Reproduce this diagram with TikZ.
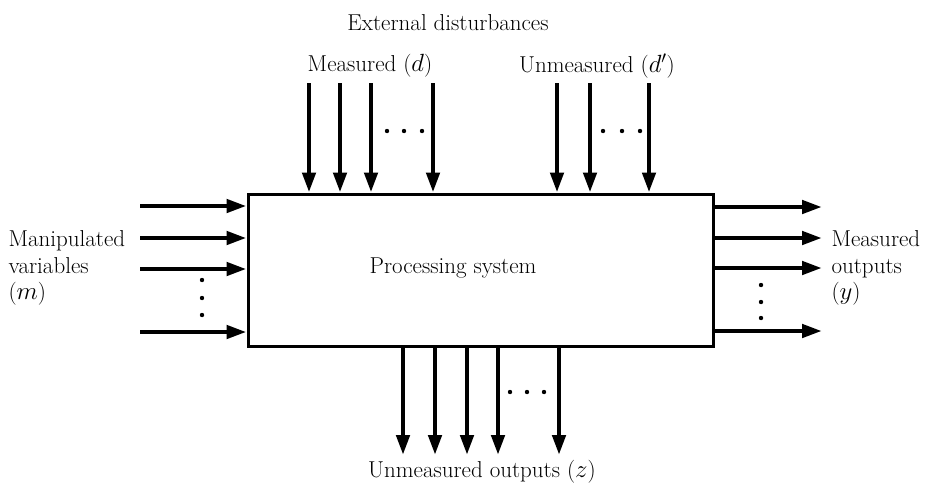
\documentclass[tikz,border=0pt]{standalone}
\usepackage{tikz}
\usetikzlibrary{arrows.meta,positioning}

\begin{document}
\begin{tikzpicture}[x=1pt,y=-1pt,>={Triangle[length=20pt,width=13pt]},every node/.style={font=\fontsize{23}{26.5}\selectfont},
  flow/.style={->,line width=4.5pt},sysbox/.style={draw,line width=3pt,minimum width=465pt,minimum height=152pt}]
\useasboundingbox (0,0) rectangle (933,488);
\node[sysbox] (sys) at (480.5,270) {};
\node (sysl) at (453,268) {Processing system};
% disturbances in
\foreach \x [count=\i] in {309,340,371,433}{
  \coordinate (d\i) at (\x,83);
  \draw[flow] (d\i) -- (d\i |- sys.north);
}
\foreach \x [count=\i] in {557,590,649}{
  \coordinate (u\i) at (\x,83);
  \draw[flow] (u\i) -- (u\i |- sys.north);
}
\foreach \x in {387,404,422,603,622,640} \fill (\x,131) circle (2.2pt);
% manipulated in, measured out
\foreach \y [count=\i] in {206,238,269,332}{
  \coordinate (m\i) at (140,\y);
  \draw[flow] (m\i) -- (m\i -| sys.west);
}
\foreach \y [count=\i] in {207,238,268,331}{
  \coordinate (y\i) at (822,\y);
  \draw[flow] (y\i -| sys.east) -- (y\i);
}
\foreach \y in {280,298,315} \fill (202,\y) circle (2.2pt);
\foreach \y in {285,302,318} \fill (761,\y) circle (2.2pt);
% unmeasured out
\foreach \x [count=\i] in {403,435,467,498,559}{
  \coordinate (z\i) at (\x,455);
  \draw[flow] (z\i |- sys.south) -- (z\i);
}
\foreach \x in {510,527,544} \fill (\x,392) circle (2.2pt);
% labels
\node[align=left,anchor=west] (mlbl) at (5,268) {Manipulated\\variables\\($m$)};
\node[align=left,anchor=west] (ylbl) at (828,268) {Measured\\outputs\\($y$)};
\node (dlbl) at (370,66) {Measured ($d$)};
\node (ulbl) at (597,66) {Unmeasured ($d'$)};
\node (extl) at (448,23) {External disturbances};
\node (zlbl) at (482,472) {Unmeasured outputs ($z$)};
\end{tikzpicture}
\end{document}
